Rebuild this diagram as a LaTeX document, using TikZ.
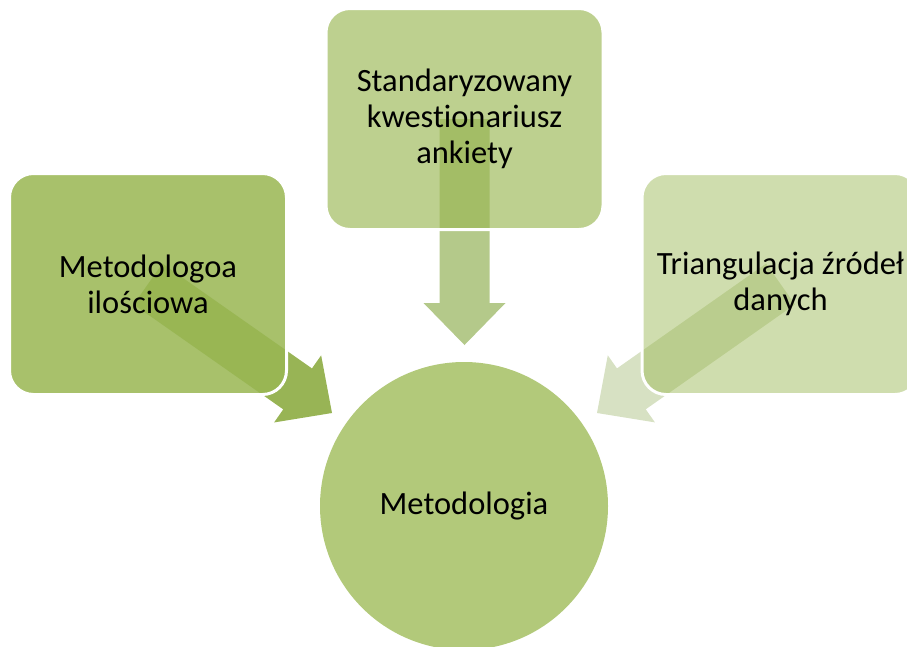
\documentclass[tikz,border=0pt]{standalone}
\usepackage{fontspec}
\setmainfont{Carlito}[Ligatures=NoCommon]
\usetikzlibrary{calc,backgrounds}

\definecolor{boxgreen}{RGB}{154,183,83}
\definecolor{circlegreen}{RGB}{178,201,122}
\definecolor{arrowdark}{RGB}{152,180,85}
\definecolor{arrowmid}{RGB}{180,201,138}
\definecolor{arrowlight}{RGB}{215,225,195}

\newcommand{\bigarrow}[3]{%
	\fill[#3] ($(#1)!25pt!90:(#2)$)
		-- ($(#2)!42pt!(#1)!25pt!90:(#2)$)
		-- ($(#2)!42pt!(#1)!41pt!90:(#2)$)
		-- (#2)
		-- ($(#2)!42pt!(#1)!41pt!-90:(#2)$)
		-- ($(#2)!42pt!(#1)!25pt!-90:(#2)$)
		-- ($(#1)!25pt!-90:(#2)$) -- cycle;}

\begin{document}
\begin{tikzpicture}[x=1pt,y=-1pt]
	\tikzstyle{every node}=[font=\fontsize{32.5}{36}\selectfont,align=center,text opacity=1]
	\tikzstyle{srcbox}=[rectangle,rounded corners=24pt,minimum width=277pt,minimum height=221pt,inner sep=0pt,fill=boxgreen,draw=white,line width=3pt]

	\useasboundingbox (0,0) rectangle (907,646);
	\clip (0,0) rectangle (907,646);

	\node (boxL) at (148,284) [srcbox,fill opacity=0.86] {Metodologoa\\ilościowa};
	\node (boxT) at (464.5,119) [srcbox,fill opacity=0.65] {Standaryzowany\\kwestionariusz\\ankiety};
	\node (boxR) at (780.5,284) [srcbox,fill opacity=0.47] {Triangulacja źródeł\\danych};
	\node (goal) at (464,506) [circle,minimum size=288pt,inner sep=0pt,fill=circlegreen] {Metodologia};

	\coordinate (tipL) at (332,413);
	\coordinate (tipT) at (464.5,345);
	\coordinate (tipR) at (597,413);

	\begin{scope}[on background layer]
		\bigarrow{boxL.center}{tipL}{arrowdark}
		\bigarrow{boxT.center}{tipT}{arrowmid}
		\bigarrow{boxR.center}{tipR}{arrowlight}
	\end{scope}
\end{tikzpicture}
\end{document}
